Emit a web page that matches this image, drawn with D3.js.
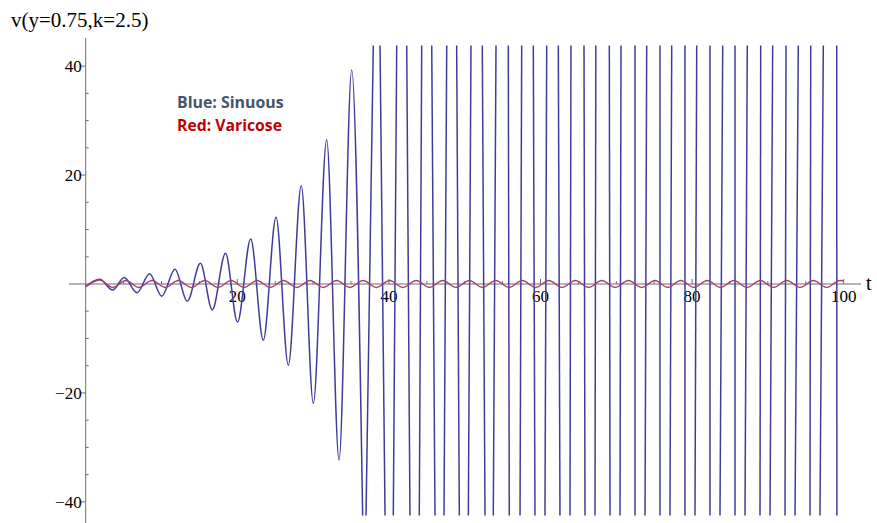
<!DOCTYPE html>
<html><head><meta charset="utf-8">
<script src="https://cdn.jsdelivr.net/npm/d3@7"></script>
<style>body{margin:0;background:#fff;overflow:hidden}</style>
</head><body>
<svg id="c" width="877" height="523"></svg>
<script>
// ---- data ----
const xTicks = [20, 40, 60, 80, 100];
const yTicks = [-40, -20, 20, 40];
const minorStep = 5;
const titleText = "v(y=0.75,k=2.5)";
const axisLabelX = "t";
const legendLabels = ["Blue: Sinuous", "Red: Varicose"];

// Sinuous (blue): start point and extrema of the visible growing oscillation
const blueT = [0, 1.86, 3.56, 5.08, 6.77, 8.43, 10.03, 11.78, 13.40, 15.13, 16.70, 18.44, 20.03, 21.77, 23.43, 25.11, 26.73, 28.44, 30.03, 31.79, 33.42, 35.09, 36.54];
const blueV = [-0.45, 0.85, -1.10, 1.19, -1.60, 1.89, -2.24, 2.70, -3.18, 3.80, -4.77, 5.64, -6.98, 8.26, -10.3, 12.25, -14.9, 18.05, -21.9, 26.5, -32.3, 39.3, -42.5];
// plot range limits where the curve is cut off
const vTop = 43.8, vBot = -42.5;
// runaway part: t where the curve leaves / re-enters the plot range
const dipInT  = [36.54, 39.49, 42.78, 46.08, 49.29, 52.68, 55.88, 59.27, 62.57, 65.87, 69.17, 72.47, 75.76, 79.06, 82.36, 85.66, 88.96, 92.26, 95.55, 99.10];
const dipOutT = [36.98, 40.58, 44.01, 47.27, 50.48, 53.77, 57.30, 60.59, 63.89, 67.19, 70.49, 73.79, 77.08, 80.38, 83.68, 86.98, 90.28, 93.58, 96.87];
const peakInT  = [37.94, 41.03, 44.33, 47.63, 50.83, 54.13, 57.52, 60.82, 64.02, 67.30, 70.62, 74.01, 77.31, 80.61, 84.04, 87.28, 90.63, 94.01, 97.31];
const peakOutT = [38.83, 42.35, 45.65, 48.94, 52.32, 55.75, 59.05, 62.35, 65.74, 69.08, 72.47, 75.76, 79.06, 82.36, 85.66, 89.05, 92.39, 95.65, 99.08];

// Varicose (red): start, extrema, end
const redT = [0, 1.82, 3.56, 5.3, 7.0, 8.75, 10.5, 12.2, 13.95, 15.7, 17.45, 19.2, 20.9, 22.6, 24.35, 26.1, 27.85, 29.6, 31.35, 33.1, 34.85, 36.6, 38.35, 40.1, 41.85, 43.6, 45.35, 47.1, 48.85, 50.6, 52.35, 54.1, 55.85, 57.6, 59.35, 61.1, 62.85, 64.6, 66.35, 68.1, 69.85, 71.6, 73.35, 75.1, 76.8, 78.5, 80.25, 82.0, 83.75, 85.5, 87.25, 89.0, 90.75, 92.5, 94.25, 96.0, 97.75, 99.5, 100];
const redV = [-0.5, 0.72, -0.62, 0.62, -0.62, 0.62, -0.62, 0.62, -0.62, 0.62, -0.62, 0.62, -0.62, 0.62, -0.62, 0.62, -0.62, 0.62, -0.62, 0.62, -0.62, 0.62, -0.62, 0.62, -0.62, 0.62, -0.62, 0.62, -0.62, 0.62, -0.62, 0.62, -0.62, 0.62, -0.62, 0.62, -0.62, 0.62, -0.62, 0.62, -0.62, 0.62, -0.62, 0.62, -0.62, 0.62, -0.62, 0.62, -0.62, 0.62, -0.62, 0.62, -0.62, 0.62, -0.62, 0.62, -0.62, 0.62, 0.6];

// ---- drawing ----
const svg = d3.select("#c");
const x = d3.scaleLinear().domain([0, 100]).range([85.7, 843.7]);
const y = d3.scaleLinear().domain([-40, 40]).range([501.9, 66.1]);
const axisColor = "#6e6e6e";
const serif = "'Liberation Serif','Times New Roman',serif";

// axes lines
svg.append("line").attr("x1", 69).attr("x2", 861).attr("y1", y(0)).attr("y2", y(0))
  .attr("stroke", axisColor).attr("stroke-width", 1);
svg.append("line").attr("x1", x(0)).attr("x2", x(0)).attr("y1", 38).attr("y2", 523)
  .attr("stroke", axisColor).attr("stroke-width", 1);

// minor ticks
const xMinor = d3.range(minorStep, 100, minorStep).filter(v => !xTicks.includes(v));
svg.selectAll(".xm").data(xMinor).enter().append("line")
  .attr("x1", d => x(d)).attr("x2", d => x(d)).attr("y1", y(0)).attr("y2", y(0) - 3)
  .attr("stroke", axisColor);
const yMinor = d3.range(-40, 41, minorStep).filter(v => v !== 0 && !yTicks.includes(v));
svg.selectAll(".ym").data(yMinor).enter().append("line")
  .attr("x1", x(0)).attr("x2", x(0) + 3).attr("y1", d => y(d)).attr("y2", d => y(d))
  .attr("stroke", axisColor);

// major ticks + labels
svg.selectAll(".xM").data(xTicks).enter().append("line")
  .attr("x1", d => x(d)).attr("x2", d => x(d)).attr("y1", y(0) - 5).attr("y2", y(0))
  .attr("stroke", axisColor);
svg.selectAll(".xl").data(xTicks).enter().append("text")
  .attr("x", d => x(d)).attr("y", y(0) + 18).attr("text-anchor", "middle")
  .attr("font-family", serif).attr("font-size", 17).attr("fill", "#000")
  .text(d => d);
svg.selectAll(".yM").data(yTicks).enter().append("line")
  .attr("x1", x(0) - 5).attr("x2", x(0)).attr("y1", d => y(d)).attr("y2", d => y(d))
  .attr("stroke", axisColor);
svg.selectAll(".yl").data(yTicks).enter().append("text")
  .attr("x", x(0) - 4).attr("y", d => y(d) + 6).attr("text-anchor", "end")
  .attr("font-family", serif).attr("font-size", 17).attr("fill", "#000")
  .text(d => d < 0 ? "\u2212" + Math.abs(d) : d);

// axis titles
svg.append("text").attr("x", 866).attr("y", y(0) + 6).attr("font-family", serif)
  .attr("font-size", 20).text(axisLabelX);
svg.append("text").attr("x", 11).attr("y", 27).attr("font-family", serif)
  .attr("font-size", 21).text(titleText);

// blue curve: smooth part
const blueColor = "#3f3d99", redColor = "#a0406f";
const bluePts = blueT.map((t, i) => [t, blueV[i]]);
const smooth = d3.line().x(d => x(d[0])).y(d => y(d[1])).curve(d3.curveMonotoneX);
svg.append("path").attr("d", smooth(bluePts)).attr("fill", "none")
  .attr("stroke", blueColor).attr("stroke-width", 1.5);

// blue curve: runaway part, straight segments between the range limits
const segs = [];
for (let i = 0; i < peakInT.length; i++) {
  segs.push([[dipOutT[i], vBot], [peakInT[i], vTop]]);
  segs.push([[peakOutT[i], vTop], [dipInT[i + 1], vBot]]);
}
const lin = d3.line().x(d => x(d[0])).y(d => y(d[1]));
svg.selectAll(".seg").data(segs).enter().append("path")
  .attr("d", d => lin(d)).attr("fill", "none")
  .attr("stroke", blueColor).attr("stroke-width", 1.5);

// red curve
const redPts = redT.map((t, i) => [t, redV[i]]);
svg.append("path").attr("d", smooth(redPts)).attr("fill", "none")
  .attr("stroke", redColor).attr("stroke-width", 1.5);

// legend
const legendColors = ["#44546a", "#c00000"];
const legendY = [108, 131];
const legendW = [106.7, 105];
legendLabels.forEach((s, i) => {
  svg.append("text").attr("x", 177).attr("y", legendY[i])
    .attr("font-family", "'Open Sans',Lato,sans-serif").attr("font-weight", 700)
    .attr("font-size", 16.5).attr("fill", legendColors[i])
    .attr("textLength", legendW[i]).attr("lengthAdjust", "spacingAndGlyphs")
    .text(s);
});
</script>
</body></html>
